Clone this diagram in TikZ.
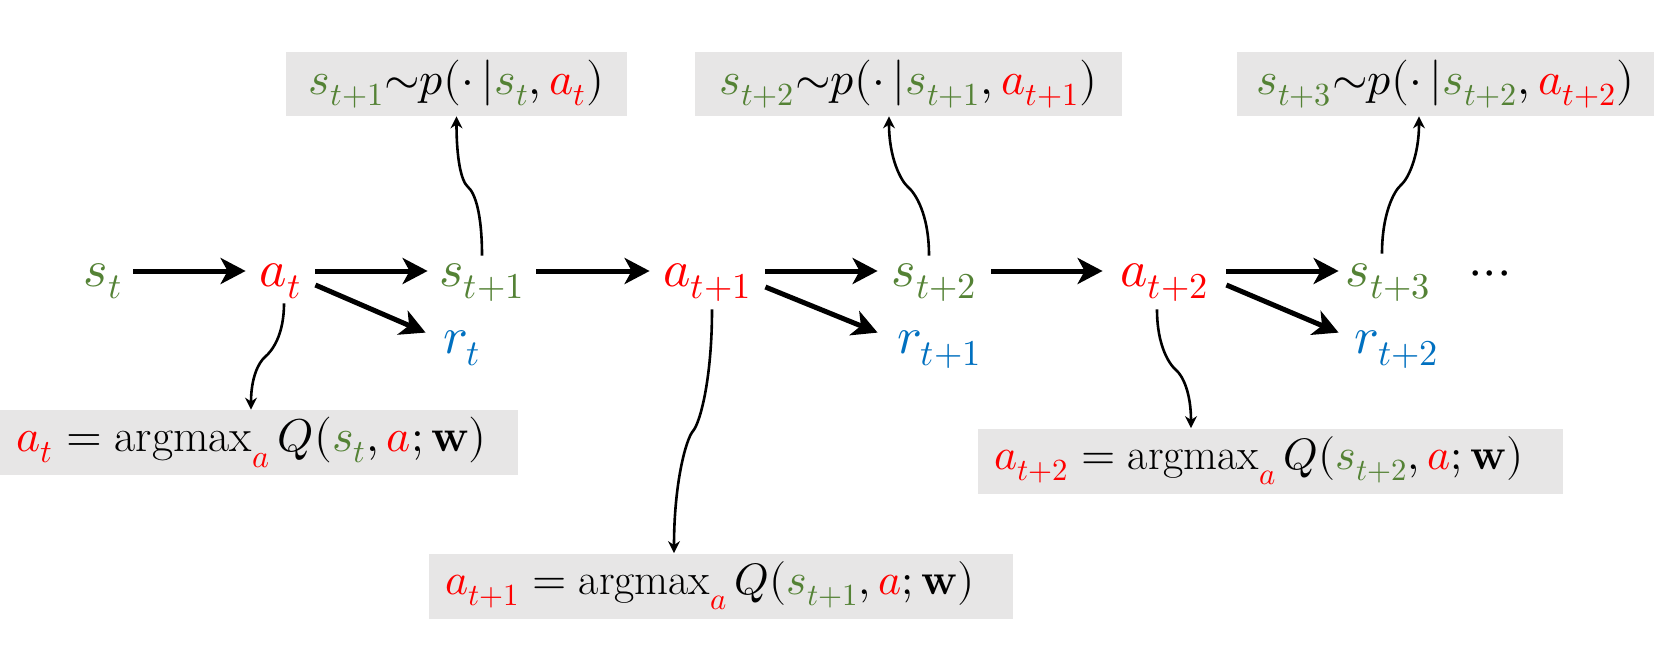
\documentclass[tikz,border=0pt]{standalone}
\usepackage{fontspec}
\usepackage{unicode-math}
\usetikzlibrary{arrows.meta,calc}
\definecolor{sgreen}{HTML}{548235}
\definecolor{ared}{HTML}{FF0000}
\definecolor{rblue}{HTML}{0070C0}
\definecolor{boxgray}{HTML}{E7E6E6}
\newcommand{\Sv}[1]{{\color{sgreen}#1}}
\newcommand{\Av}[1]{{\color{ared}#1}}
\tikzset{
  mainnode/.style={anchor=base, inner sep=0pt, text height=15pt, text depth=0pt, font=\fontsize{26}{30}\selectfont},
  rnode/.style={anchor=base, inner sep=0pt, text height=12pt, text depth=0pt, font=\fontsize{26}{30}\selectfont, text=rblue},
  topbox/.style={fill=boxgray, inner sep=0pt, minimum height=32pt, font=\fontsize{23}{27}\selectfont},
  botbox/.style={fill=boxgray, anchor=west, inner xsep=8pt, inner ysep=0pt, minimum height=32.5pt, align=left, font=\fontsize{22}{26}\selectfont},
  bigarrow/.style={line width=2.5pt, -{Stealth[length=12.5pt,width=13pt,inset=3.5pt]}},
  thinarrow/.style={line width=1.3pt, -{Stealth[length=6pt,width=6pt]}},
}
\begin{document}
\begin{tikzpicture}[x=0.5pt,y=-0.5pt]
\fill[white] (0,0) rectangle (1654,648);
\useasboundingbox (0,0) rectangle (1654,648);

% main row
\node[mainnode, text=sgreen, minimum width=30pt]   (s0) at (103,286)    {$s_t$};
\node[mainnode, text=ared,   minimum width=34.5pt] (a0) at (280.5,286)  {$a_t$};
\node[mainnode, text=sgreen, minimum width=54pt]   (s1) at (482,286)    {$s_{t+1}$};
\node[mainnode, text=ared,   minimum width=57.5pt] (a1) at (707.5,286)  {$a_{t+1}$};
\node[mainnode, text=sgreen, minimum width=56.5pt] (s2) at (934.5,286)  {$s_{t+2}$};
\node[mainnode, text=ared,   minimum width=61.5pt] (a2) at (1164.5,286) {$a_{t+2}$};
\node[mainnode, text=sgreen, minimum width=49.5pt] (s3) at (1388.5,286) {$s_{t+3}$};
\node[mainnode] (dots) at (1490,286) {${\cdot}{\cdot}{\cdot}$};

% rewards
\node[rnode, minimum width=36pt]   (r0) at (462,353)    {$r_t$};
\node[rnode, minimum width=61.5pt] (r1) at (939.5,353)  {$r_{t+1}$};
\node[rnode, minimum width=58pt]   (r2) at (1397,353)   {$r_{t+2}$};

% boxes
\node[topbox, minimum width=170.5pt] (T1) at (456.5,84)  {$\Sv{s_{t+1}}{\sim}p(\cdot\,|\Sv{s_t},\Av{a_t})$};
\node[topbox, minimum width=213.5pt] (T2) at (908.5,84)  {$\Sv{s_{t+2}}{\sim}p(\cdot\,|\Sv{s_{t+1}},\Av{a_{t+1}})$};
\node[topbox, minimum width=208.5pt] (T3) at (1445.5,84) {$\Sv{s_{t+3}}{\sim}p(\cdot\,|\Sv{s_{t+2}},\Av{a_{t+2}})$};

\node[botbox, text width=243pt, font=\fontsize{23}{27}\selectfont] (B1) at (0,442.5)  {$\Av{a_t}=\mathrm{argmax}_{\Av{a}}\,Q(\Sv{s_t},\Av{a};\mathbf{w})$};
\node[botbox, text width=276pt] (B2) at (429,586)  {$\Av{a_{t+1}}=\mathrm{argmax}_{\Av{a}}\,Q(\Sv{s_{t+1}},\Av{a};\mathbf{w})$};
\node[botbox, text width=276.5pt] (B3) at (978,461) {$\Av{a_{t+2}}=\mathrm{argmax}_{\Av{a}}\,Q(\Sv{s_{t+2}},\Av{a};\mathbf{w})$};

% main arrows
\draw[bigarrow] (s0) -- (a0);
\draw[bigarrow] (a0) -- (s1);
\draw[bigarrow] (s1) -- (a1);
\draw[bigarrow] (a1) -- (s2);
\draw[bigarrow] (s2) -- (a2);
\draw[bigarrow] (a2) -- (s3);
\draw[bigarrow] ([yshift=-7pt]a0.east) -- ([yshift=-2pt]r0.north west);
\draw[bigarrow] ([yshift=-8pt]a1.east) -- ([yshift=-2pt]r1.north west);
\draw[bigarrow] ([yshift=-7pt]a2.east) -- ([yshift=-2pt]r2.north west);

% curved thin arrows
\draw[thinarrow] ($(a0.south)+(3.5,17)$) .. controls +(0,32) and +(7,-6) .. (265,357)
   .. controls +(-7,6) and +(0,-31) .. ($(B1.north west)+(251,0)$);
\draw[thinarrow] (s1.north) .. controls +(0,-42) and +(7,6) .. (468,187)
   .. controls +(-7,-6) and +(0,42) .. (T1.south);
\draw[thinarrow] ($(a1.south)+(4.5,23)$) .. controls +(0,70) and +(7,-8) .. (693,431)
   .. controls +(-7,8) and +(0,-70) .. ($(B2.north west)+(245,0)$);
\draw[thinarrow] ($(s2.north)+(-5.5,0)$) .. controls +(0,-42) and +(7,6) .. (908,187)
   .. controls +(-7,-6) and +(0,42) .. ($(T2.south)+(-19.5,0)$);
\draw[thinarrow] ($(a2.south)+(-7.5,23)$) .. controls +(0,36) and +(-7,-6) .. (1176,370)
   .. controls +(7,6) and +(0,-35) .. ($(B3.north west)+(213,0)$);
\draw[thinarrow] ($(s3.north)+(-6.5,-2)$) .. controls +(0,-40) and +(-7,6) .. (1401,185)
   .. controls +(7,-6) and +(0,40) .. ($(T3.south)+(-26.5,0)$);
\end{tikzpicture}
\end{document}
